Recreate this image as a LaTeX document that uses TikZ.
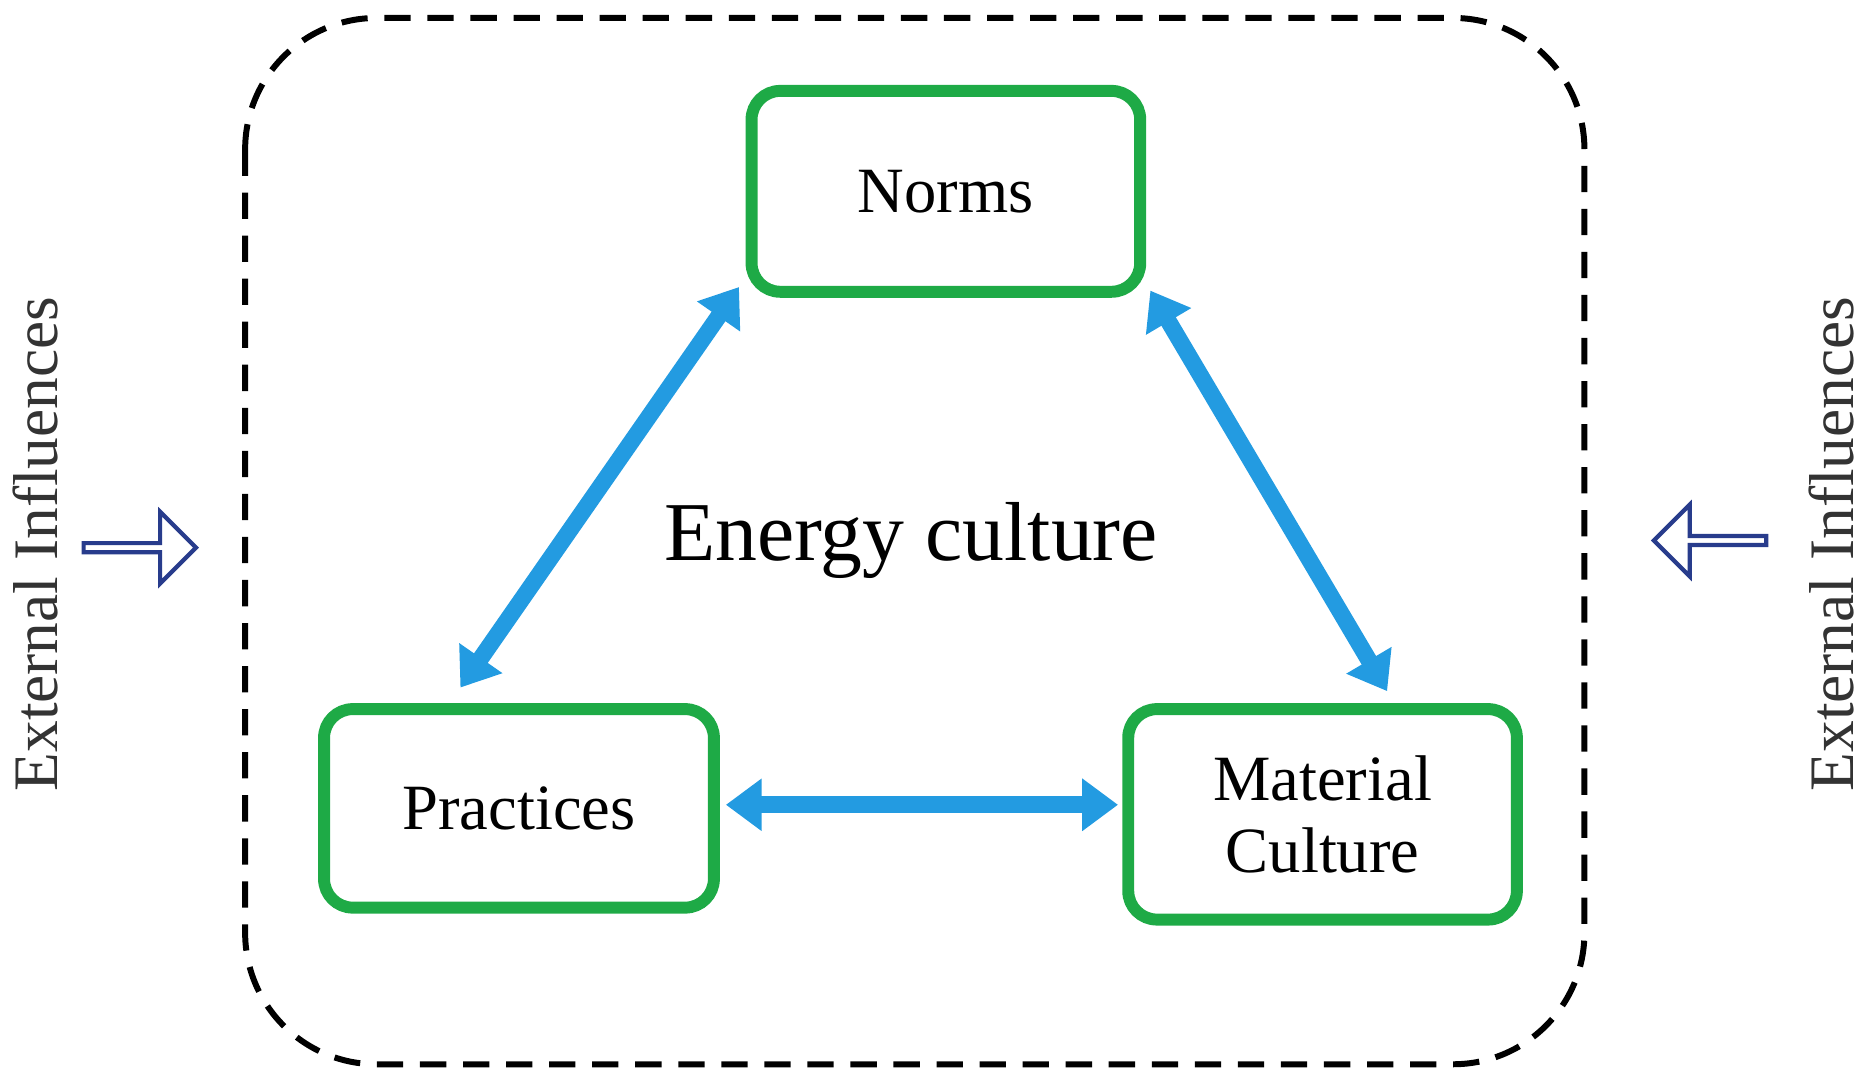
\documentclass[tikz,border=0pt]{standalone}
\usepackage{fontspec}
\setmainfont{Liberation Serif}
\usetikzlibrary{arrows.meta,shapes.arrows}
\definecolor{gbox}{RGB}{30,170,70}
\definecolor{barrow}{RGB}{35,155,225}
\definecolor{navy}{RGB}{40,60,140}
\begin{document}
\begin{tikzpicture}[x=1pt,y=-1pt,
  box/.style={draw=gbox,line width=10pt,rounded corners=24pt,inner sep=0pt,font=\fontsize{54}{60}\selectfont,align=center},
  link/.style={draw=barrow,line width=14pt,{Triangle[length=30pt,width=42pt]}-{Triangle[length=30pt,width=42pt]}},
  ext/.style={font=\fontsize{53}{60}\selectfont,text=black!80,rotate=90},
  blk/.style={single arrow,draw=navy,line width=3.5pt,fill=white,minimum height=94pt,minimum width=60pt,single arrow head extend=12pt,inner sep=0pt}]
\useasboundingbox (0,0) rectangle (1568,911);
\draw[line width=5pt,dash pattern=on 22pt off 14pt,rounded corners=110pt] (205,15) rectangle (1325,890);
\node[box,minimum width=325pt,minimum height=168pt] (n) at (791,160) {Norms};
\node[box,minimum width=326pt,minimum height=166pt] (p) at (434,676) {Practices};
\node[box,minimum width=325pt,minimum height=176pt] (m) at (1106,681) {Material\\Culture};
\node[font=\fontsize{70}{78}\selectfont] (e) at (762,452) {Energy culture};
\coordinate (a1) at (385,575); \coordinate (a2) at (618,240);
\coordinate (b1) at (962,243); \coordinate (b2) at (1160,578);
\coordinate (c1) at (607,673); \coordinate (c2) at (935,673);
\draw[link] (a1) -- (a2);
\draw[link] (b1) -- (b2);
\draw[link] (c1) -- (c2);
\node[ext] (l) at (30,455) {External Influences};
\node[ext] (r) at (1532,455) {External Influences};
\node[blk] (la) at (115,458) {};
\node[blk,shape border rotate=180] (ra) at (1432,452) {};
\end{tikzpicture}
\end{document}
